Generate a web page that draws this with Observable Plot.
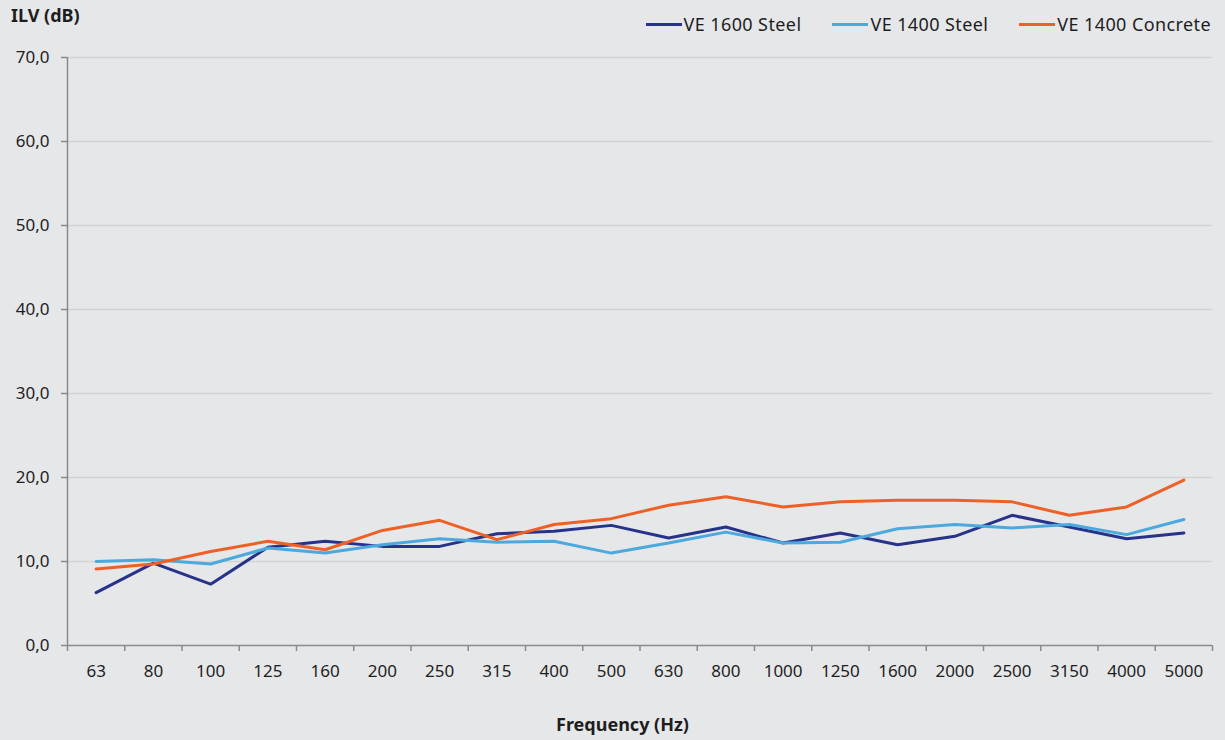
<!DOCTYPE html>
<html>
<head>
<meta charset="utf-8">
<script src="https://cdn.jsdelivr.net/npm/d3@7"></script>
<script src="https://cdn.jsdelivr.net/npm/@observablehq/plot@0.6"></script>
<style>
  html, body { margin: 0; padding: 0; background: #e6e7e9; }
  #wrap { position: relative; width: 1225px; height: 740px; font-family: "Noto Sans", "Open Sans", sans-serif; color: #1e1e1e; }
  #title { position: absolute; left: 11px; top: 3px; font-weight: bold; font-size: 18px; line-height: normal; }
  #legend { position: absolute; right: 14px; top: 12px; display: flex; gap: 31px; font-size: 18px; line-height: normal; letter-spacing: 0.4px; }
  .item { display: flex; align-items: center; }
  .sw { width: 36px; height: 3px; margin-right: 2px; }
  #xlabel { position: absolute; left: 0; width: 1225px; top: 712px; text-align: center; font-weight: bold; font-size: 18px; line-height: normal; padding-left: 20px; box-sizing: border-box; }
  #chart { position: absolute; left: 0; top: 0; }
</style>
</head>
<body>
<div id="wrap">
  <div id="chart"></div>
  <div id="title">ILV (dB)</div>
  <div id="legend"></div>
  <div id="xlabel">Frequency (Hz)</div>
</div>
<script>
const freqs = ["63","80","100","125","160","200","250","315","400","500","630","800","1000","1250","1600","2000","2500","3150","4000","5000"];
const ve1600Steel = [6.3, 9.8, 7.3, 11.7, 12.4, 11.8, 11.8, 13.3, 13.6, 14.3, 12.8, 14.1, 12.2, 13.4, 12.0, 13.0, 15.5, 14.1, 12.7, 13.4];
const ve1400Steel = [10.0, 10.2, 9.7, 11.6, 11.0, 12.0, 12.7, 12.3, 12.4, 11.0, 12.2, 13.5, 12.2, 12.3, 13.9, 14.4, 14.0, 14.4, 13.2, 15.0];
const ve1400Concrete = [9.1, 9.7, 11.2, 12.4, 11.4, 13.7, 14.9, 12.6, 14.4, 15.1, 16.7, 17.7, 16.5, 17.1, 17.3, 17.3, 17.1, 15.5, 16.5, 19.7];
const seriesNames = ["VE 1600 Steel", "VE 1400 Steel", "VE 1400 Concrete"];
const seriesColors = ["#27338a", "#4ba9dd", "#ee6126"];
const yTicks = [0, 10, 20, 30, 40, 50, 60, 70];

const seriesValues = [ve1600Steel, ve1400Steel, ve1400Concrete];
const rows = [];
seriesValues.forEach((vals, k) => vals.forEach((v, i) => rows.push({i, v, s: seriesNames[k]})));
const centers = freqs.map((_, i) => i);
const boundaries = d3.range(freqs.length + 1).map(i => i - 0.5);

const chart = Plot.plot({
  width: 1225,
  height: 740,
  marginTop: 57,
  marginBottom: 95,
  marginLeft: 67,
  marginRight: 13,
  style: {background: "transparent", fontFamily: "'Noto Sans', 'Open Sans', sans-serif", fontSize: "17px", color: "#1e1e1e"},
  x: {domain: [-0.5, freqs.length - 0.5], axis: null},
  y: {domain: [0, 70], axis: null},
  color: {domain: seriesNames, range: seriesColors},
  marks: [
    Plot.gridY(yTicks.slice(1), {stroke: "#d2d3d5", strokeOpacity: 1, strokeWidth: 1.5}),
    Plot.axisY(yTicks, {tickFormat: d => d.toFixed(1).replace(".", ","), tickSize: 6, tickPadding: 12, stroke: "#8a8a8a", strokeWidth: 1.5, label: null, fontSize: 17}),
    Plot.axisX(boundaries, {tickFormat: () => "", tickSize: 6, stroke: "#8a8a8a", strokeWidth: 1.5, label: null}),
    Plot.axisX(centers, {tickFormat: i => freqs[i], tickSize: 0, tickPadding: 19, label: null, fontSize: 17}),
    Plot.ruleX([-0.5], {stroke: "#8a8a8a", strokeWidth: 1.5}),
    Plot.ruleY([0], {stroke: "#8a8a8a", strokeWidth: 1.5}),
    Plot.line(rows, {x: "i", y: "v", z: "s", stroke: "s", strokeWidth: 3, strokeLinejoin: "miter", strokeLinecap: "round"})
  ]
});
document.getElementById("chart").appendChild(chart);

const legend = document.getElementById("legend");
seriesNames.forEach((name, k) => {
  const item = document.createElement("div");
  item.className = "item";
  const sw = document.createElement("span");
  sw.className = "sw";
  sw.style.background = seriesColors[k];
  const t = document.createElement("span");
  t.textContent = name;
  item.appendChild(sw);
  item.appendChild(t);
  legend.appendChild(item);
});
</script>
</body>
</html>
